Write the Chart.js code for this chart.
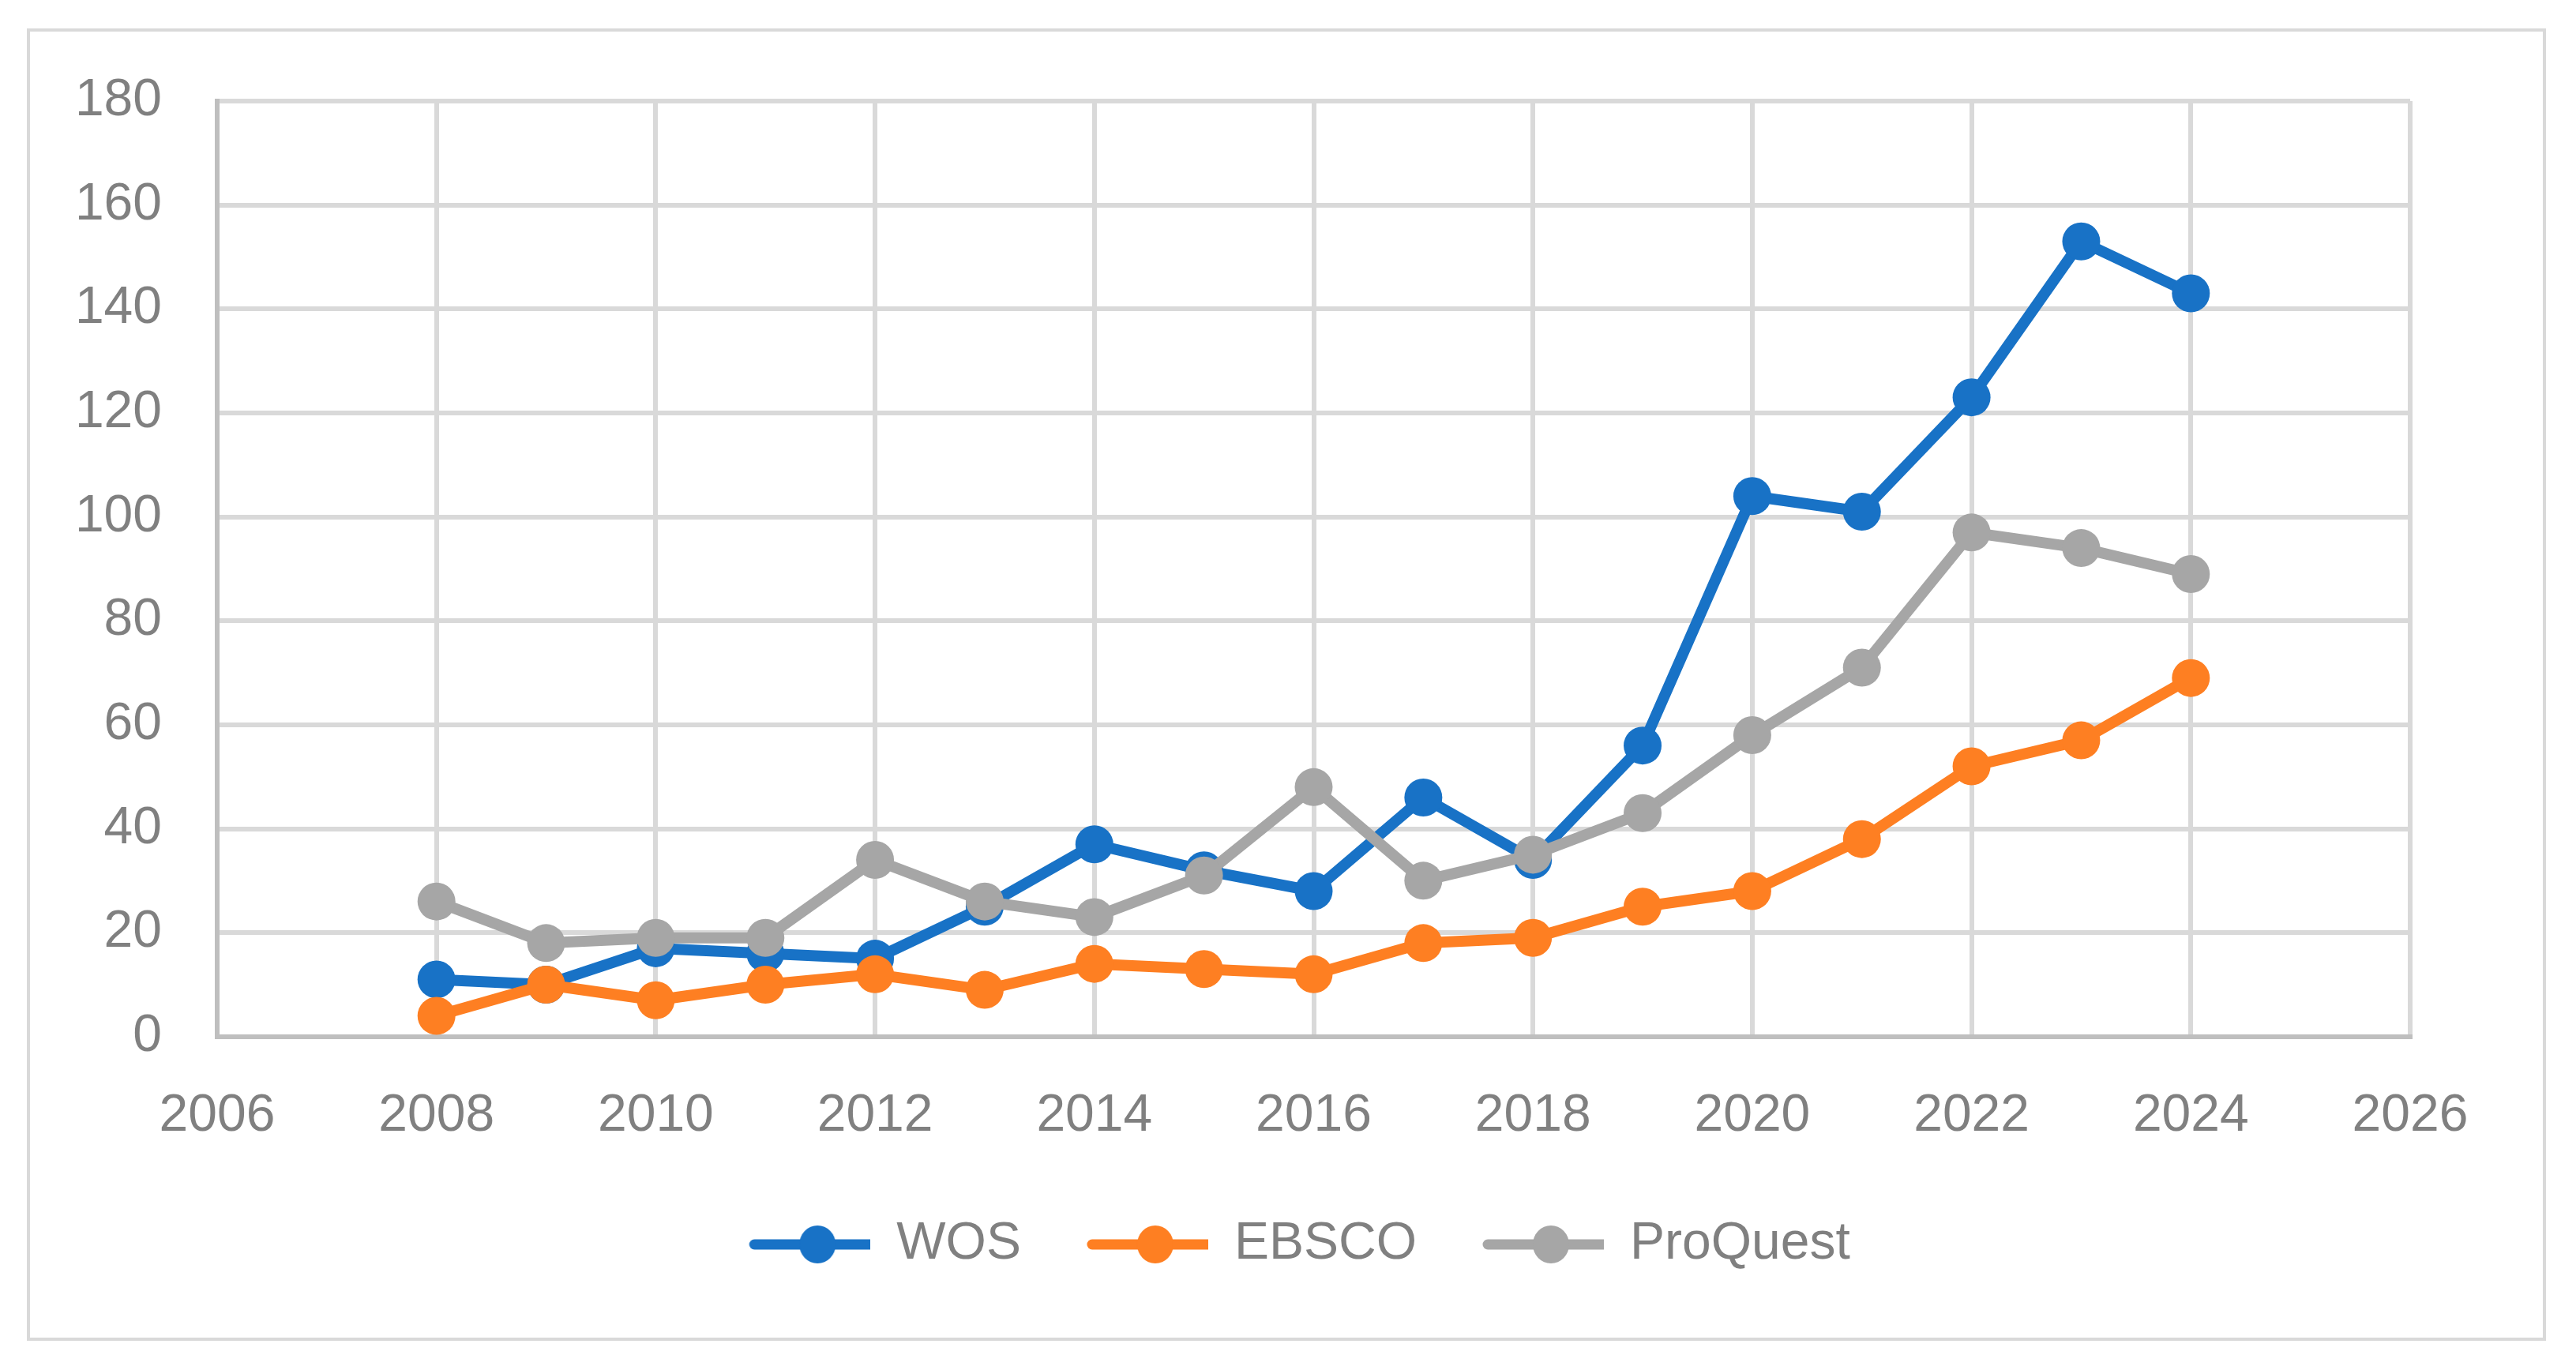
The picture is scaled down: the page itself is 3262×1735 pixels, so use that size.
<!DOCTYPE html>
<html><head><meta charset="utf-8">
<script src="https://cdn.jsdelivr.net/npm/chart.js@4.4.1/dist/chart.umd.min.js"></script>
<style>
html,body{margin:0;padding:0;background:#fff;}
#wrap{width:3262px;height:1735px;position:relative;}
</style>
</head><body>
<div id="wrap"><canvas id="c"></canvas></div>
<script>
// ---- data ----
const years = [2008,2009,2010,2011,2012,2013,2014,2015,2016,2017,2018,2019,2020,2021,2022,2023,2024];
const wos = [11,10,17,16,15,25,37,32,28,46,34,56,104,101,123,153,143];
const ebsco = [4,10,7,10,12,9,14,13,12,18,19,25,28,38,52,57,69];
const proquest = [26,18,19,19,34,26,23,31,48,30,35,43,58,71,97,94,89];
const seriesNames = ['WOS','EBSCO','ProQuest'];
const seriesColors = ['#1872C6','#FE7F22','#A6A6A6'];
const xMin = 2006, xMax = 2026, xStep = 2;
const yMin = 0, yMax = 180, yStep = 20;

const FONT = "'Liberation Sans','Arial',sans-serif";
const TEXT = '#808080';
const FS = 66;

// legend icon: line with a circle marker, with blank space on its left
const ICON_W = 208, ICON_L = 54, LINE_LEN = 174;
function legendIcon(color){
  const c = document.createElement('canvas');
  c.width = ICON_W; c.height = 56;
  const g = c.getContext('2d');
  g.strokeStyle = color; g.lineWidth = 13; g.lineCap = 'round';
  g.beginPath(); g.moveTo(ICON_L+7,28); g.lineTo(ICON_L+LINE_LEN-7,28); g.stroke();
  g.fillStyle = color;
  g.beginPath(); g.ellipse(ICON_L+LINE_LEN/2,28,23,24,0,0,Math.PI*2); g.fill();
  return c;
}

const seriesValues = [wos, ebsco, proquest];
const datasets = seriesValues.map((vals,i)=>({
  label: seriesNames[i],
  data: years.map((y,k)=>({x:y,y:vals[k]})),
  xAxisID: 'x',
  yAxisID: 'y',
  order: seriesValues.length - i,   // later series drawn on top
  borderColor: seriesColors[i],
  backgroundColor: seriesColors[i],
  borderWidth: 14,
  pointRadius: 24,
  pointHoverRadius: 24,
  pointBorderWidth: 0,
  pointStyle: 'circle',
  showLine: true,
  tension: 0,
  borderJoinStyle: 'round',
  borderCapStyle: 'round'
}));
const icons = seriesColors.map(legendIcon);

const framePlugin = {
  id:'frame',
  beforeDraw(chart){
    const ctx = chart.ctx;
    ctx.save();
    ctx.fillStyle = '#fff';
    ctx.fillRect(0,0,chart.width,chart.height);
    ctx.strokeStyle = '#D9D9D9';
    ctx.lineWidth = 4;
    ctx.strokeRect(36,38,3186,1658);
    ctx.restore();
  }
};

new Chart(document.getElementById('c'), {
  type: 'scatter',
  data: { datasets },
  plugins: [framePlugin],
  options: {
    responsive: true,
    maintainAspectRatio: false,
    animation: false,
    devicePixelRatio: 1,
    layout: { padding: { left: 0, right: 25, top: 128, bottom: 116 } },
    plugins: {
      tooltip: { enabled: false },
      legend: {
        position: 'bottom',
        labels: {
          usePointStyle: true,
          pointStyleWidth: ICON_W,
          boxHeight: 56,
          padding: 29,
          color: TEXT,
          font: { family: FONT, size: FS },
          generateLabels(chart){
            return chart.data.datasets.map((d,i)=>({
              text: d.label,
              fillStyle: d.backgroundColor,
              strokeStyle: d.borderColor,
              lineWidth: 0,
              pointStyle: icons[i],
              hidden: false,
              datasetIndex: i,
              fontColor: TEXT
            }));
          }
        }
      }
    },
    scales: {
      x: {
        type: 'linear',
        min: xMin, max: xMax,
        ticks: { stepSize: xStep, color: TEXT, font: { family: FONT, size: FS }, padding: 61,
                 callback: v => String(v), maxRotation: 0 },
        grid: { color: '#D9D9D9', lineWidth: 6, drawTicks: false },
        border: { color: '#BFBFBF', width: 6 }
      },
      y: {
        position: 'left',
        min: yMin, max: yMax,
        ticks: { stepSize: yStep, color: TEXT, font: { family: FONT, size: FS }, padding: 70 },
        grid: { color: '#D9D9D9', lineWidth: 6, drawTicks: false },
        border: { color: '#BFBFBF', width: 6 },
        afterFit(scale){ scale.width = 275; }
      },
      yRightMargin: {
        type: 'linear',
        position: 'right',
        min: yMin, max: yMax,
        ticks: { display: false },
        grid: { display: false, drawTicks: false },
        border: { display: false },
        afterFit(scale){ scale.width = 185; }
      }
    }
  }
});
</script>
</body></html>
